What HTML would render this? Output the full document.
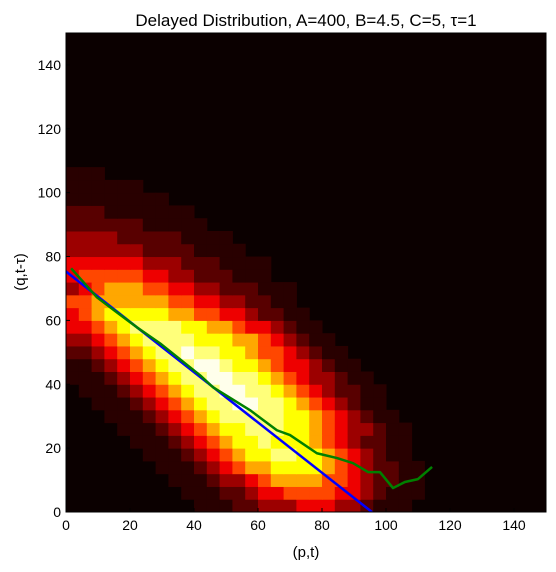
<!DOCTYPE html>
<html><head><meta charset="utf-8"><style>
html,body{margin:0;padding:0;background:#fff;}
svg{display:block;font-family:"Liberation Sans","DejaVu Sans",sans-serif;}
</style></head><body>
<svg id="chart" width="556" height="572" viewBox="0 0 556 572"></svg>
<script>
const heatRows = [
"000000000011122333444332111000",
"000000000111223445555443211100",
"000000001112334566665543221100",
"000000011123456677776543221100",
"000000111234567788776543211000",
"000001112345677877765432211000",
"000011123456778887765433211000",
"000111234567888887765432110000",
"001112345678899887654321100000",
"011123456788998876543221100000",
"111234567889988765433211000000",
"112345678899877654432110000000",
"223456788988776554321100000000",
"334567888877766543211000000000",
"445678888776654432110000000000",
"456777776655443221100000000000",
"556666665544332211000000000000",
"345666554433222111000000000000",
"455555443322211100000000000000",
"444444333222111100000000000000",
"333333222211110000000000000000",
"333322222111100000000000000000",
"222222111110000000000000000000",
"222111111100000000000000000000",
"111111110000000000000000000000",
"111111000000000000000000000000",
"111000000000000000000000000000"
];
const levelValues = [0.02,0.06,0.13,0.23,0.35,0.48,0.62,0.75,0.87,0.98];
const cellSize = 4;
const greenP = [1.6,9.7,15.9,22.2,29.4,41.9,45.9,57.5,65.9,70,78.4,84.7,89.7,94.4,98.1,102.2,105.9,110,114.4];
const greenQ = [76.3,67.2,62.5,57.8,52.8,42.8,39.1,31.9,25.6,24.1,18.4,16.9,15.3,12.5,12.5,7.5,9.4,10.3,14.1];
const blueP = [0,95.6];
const blueQ = [75.3,0];
const xTicks = [0,20,40,60,80,100,120,140];
const yTicks = [0,20,40,60,80,100,120,140];

const NS="http://www.w3.org/2000/svg";
const svg=document.getElementById('chart');
const X0=66,X1=546,Y0=512,Y1=33,MAX=150;
const sx=v=>X0+(v/MAX)*(X1-X0);
const sy=v=>Y0-(v/MAX)*(Y0-Y1);
function mk(t,a){const e=document.createElementNS(NS,t);for(const k in a)e.setAttribute(k,a[k]);svg.appendChild(e);return e;}
function hot(v){const r=Math.min(1,v/0.375),g=Math.max(0,Math.min(1,(v-0.375)/0.375)),b=Math.max(0,Math.min(1,(v-0.75)/0.25));
return `rgb(${Math.round(r*255)},${Math.round(g*255)},${Math.round(b*255)})`;}

const clip=mk('clipPath',{id:'pc'});
const cr=document.createElementNS(NS,'rect');cr.setAttribute('x',X0);cr.setAttribute('y',Y1);cr.setAttribute('width',X1-X0);cr.setAttribute('height',Y0-Y1);clip.appendChild(cr);

const bg=mk('rect',{x:X0,y:Y1,width:X1-X0,height:Y0-Y1,fill:'#0b0000'});



const g=mk('g',{'clip-path':'url(#pc)'});


heatRows.forEach((row,j)=>{
  for(let i=0;i<row.length;i++){
    const d=parseInt(row[i],10); if(!d) continue;
    const v=levelValues[d];
    const r=document.createElementNS(NS,'rect');
    const xa=sx(i*cellSize),xb=sx((i+1)*cellSize),ya=sy((j+1)*cellSize),yb=sy(j*cellSize);
    r.setAttribute('x',xa);r.setAttribute('y',ya);r.setAttribute('width',xb-xa+0.5);r.setAttribute('height',yb-ya+0.5);
    r.setAttribute('fill',hot(v));
    
    
    g.appendChild(r);
  }
});

const bl=mk('polyline',{points:blueP.map((p,k)=>sx(p)+','+sy(blueQ[k])).join(' '),fill:'none',stroke:'#0000ff','stroke-width':2.5,'clip-path':'url(#pc)'});


const gl=mk('polyline',{points:greenP.map((p,k)=>sx(p)+','+sy(greenQ[k])).join(' '),fill:'none',stroke:'#008000','stroke-width':2.5,'stroke-linejoin':'round'});



const fr=mk('rect',{x:X0,y:Y1,width:X1-X0,height:Y0-Y1,fill:'none',stroke:'#000','stroke-width':1});



xTicks.forEach(t=>{
  const x=sx(t);
  const tk=mk('line',{x1:x,x2:x,y1:Y0,y2:Y0-4,stroke:'#000'});
  
  
  const tx=mk('text',{x:x,y:530,'font-size':14,'text-anchor':'middle',fill:'#000'});
  tx.textContent=t;
  
  
});
yTicks.forEach(t=>{
  const y=sy(t);
  const tk=mk('line',{x1:X0,x2:X0+4,y1:y,y2:y,stroke:'#000'});
  
  
  const tx=mk('text',{x:61,y:y+5,'font-size':14,'text-anchor':'end',fill:'#000'});
  tx.textContent=t;
  
  
});

const title=mk('text',{x:306,y:26,'font-size':17,'text-anchor':'middle',fill:'#000'});
title.textContent='Delayed Distribution, A=400, B=4.5, C=5, τ=1';


const xl=mk('text',{x:306,y:557,'font-size':15,'text-anchor':'middle',fill:'#000'});
xl.textContent='(p,t)';


const yl=mk('text',{x:25,y:272,'font-size':15,'text-anchor':'middle',fill:'#000',transform:'rotate(-90 25 272)'});
yl.textContent='(q,t-τ)';


</script>
</body></html>
